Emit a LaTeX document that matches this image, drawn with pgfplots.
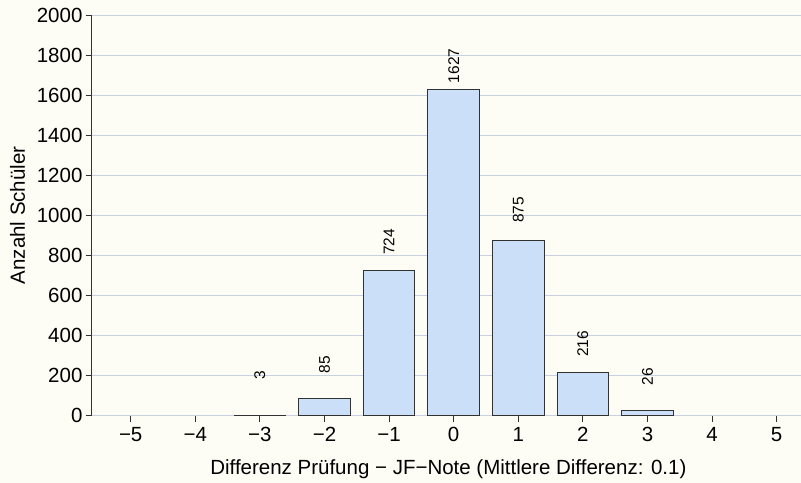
\documentclass[border=0pt]{standalone}
\usepackage{fontspec}
\setmainfont{Liberation Sans}
\usepackage{pgfplots}
\pgfplotsset{compat=1.18}
\definecolor{bgcream}{RGB}{254,253,245}
\definecolor{barfill}{RGB}{204,223,249}
\definecolor{gridc}{RGB}{200,209,226}
\definecolor{axc}{RGB}{50,50,50}
\begin{document}
\begin{tikzpicture}
\fill[bgcream] (0,0) rectangle (801pt,483pt);
\begin{axis}[
  at={(92pt,67pt)}, anchor=south west,
  scale only axis, width=709pt, height=401pt,
  xmin=-5.6, xmax=5.37, ymin=0, ymax=2000,
  axis x line=bottom, axis y line=left,
  x axis line style={draw=none},
  y axis line style={-, draw=axc, line width=0.9pt},
  xtick={-5,-4,-3,-2,-1,0,1,2,3,4,5},
  xticklabels={−5,−4,−3,−2,−1,0,1,2,3,4,5},
  ytick={0,200,400,600,800,1000,1200,1400,1600,1800,2000},
  tick align=outside, major tick length=6pt,
  tick style={draw=axc, line width=0.9pt},
  ymajorgrids, grid style={gridc, line width=0.9pt},
  /pgf/number format/assume math mode=true,
  /pgf/number format/1000 sep={},
  tick label style={font=\fontsize{20.5}{23}\selectfont},
  xticklabel style={yshift=-2pt},
  label style={font=\fontsize{20.5}{23}\selectfont},
  xlabel={Differenz Prüfung − JF−Note (Mittlere Differenz: 0.1)},
  ylabel={Anzahl Schüler},
  xlabel style={at={(axis description cs:0.503,-0.147)}, anchor=base},
  ylabel style={at={(axis description cs:-0.105,0.5)}, anchor=center},
  clip=false,
]
\addplot[ybar, bar width=0.8, fill=barfill, draw=axc, line width=0.9pt]
  coordinates {(-3,3) (-2,85) (-1,724) (0,1627) (1,875) (2,216) (3,26)};
\addplot[draw=none, mark=none, nodes near coords, point meta=explicit symbolic,
  nodes near coords style={anchor=center, rotate=90, font=\fontsize{15.5}{17}\selectfont, inner sep=0pt}]
  coordinates {(-3,204)[3] (-2,254)[85] (-1,868)[724] (0,1746)[1627] (1,1027)[875] (2,359)[216] (3,194)[26]};
\end{axis}
\end{tikzpicture}
\end{document}
